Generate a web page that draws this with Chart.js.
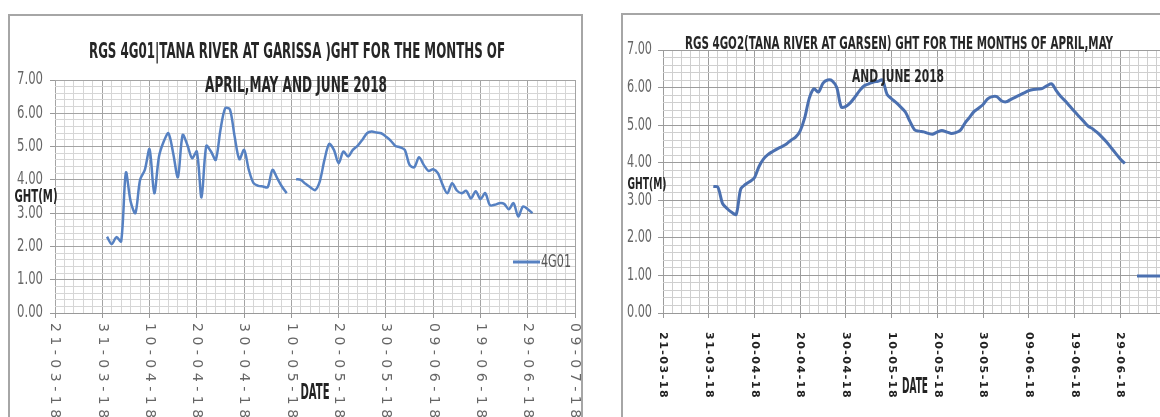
<!DOCTYPE html>
<html>
<head>
<meta charset="utf-8">
<script src="https://cdn.jsdelivr.net/npm/chart.js@4.4.1/dist/chart.umd.min.js"></script>
<style>
  html, body { margin: 0; padding: 0; background: #fff; }
  body { position: relative; width: 1160px; height: 417px; overflow: hidden; }
  .frame { position: absolute; border: 2px solid #a6a6a6; box-sizing: border-box; }
  #frameA { left: 8px; top: 14px; width: 575px; height: 440px; }
  #frameB { left: 621px; top: 13px; width: 620px; height: 440px; }
  canvas { position: absolute; top: 0; }
  #chartA { left: 0; }
  #chartB { left: 600px; }
</style>
</head>
<body>
<div class="frame" id="frameA"></div>
<div class="frame" id="frameB"></div>
<canvas id="chartA" width="600" height="417"></canvas>
<canvas id="chartB" width="600" height="417"></canvas>
<script>
// daily dates, 01-04-18 .. 30-06-18
const datesApril = ['01-04-18','02-04-18','03-04-18','04-04-18','05-04-18','06-04-18','07-04-18','08-04-18','09-04-18','10-04-18',
  '11-04-18','12-04-18','13-04-18','14-04-18','15-04-18','16-04-18','17-04-18','18-04-18','19-04-18','20-04-18',
  '21-04-18','22-04-18','23-04-18','24-04-18','25-04-18','26-04-18','27-04-18','28-04-18','29-04-18','30-04-18'];
const datesMay = ['01-05-18','02-05-18','03-05-18','04-05-18','05-05-18','06-05-18','07-05-18','08-05-18','09-05-18','10-05-18',
  '11-05-18','12-05-18','13-05-18','14-05-18','15-05-18','16-05-18','17-05-18','18-05-18','19-05-18','20-05-18',
  '21-05-18','22-05-18','23-05-18','24-05-18','25-05-18','26-05-18','27-05-18','28-05-18','29-05-18','30-05-18','31-05-18'];
const datesJune = ['01-06-18','02-06-18','03-06-18','04-06-18','05-06-18','06-06-18','07-06-18','08-06-18','09-06-18','10-06-18',
  '11-06-18','12-06-18','13-06-18','14-06-18','15-06-18','16-06-18','17-06-18','18-06-18','19-06-18','20-06-18',
  '21-06-18','22-06-18','23-06-18','24-06-18','25-06-18','26-06-18','27-06-18','28-06-18','29-06-18','30-06-18'];
const dates = [...datesApril, ...datesMay, ...datesJune];

// gauge heights (m), RGS 4G01 Garissa
const ght4G01 = [
  2.29, 2.07, 2.28, 2.15, 4.22, 3.35, 3.00, 4.00, 4.30, 4.92,
  3.60, 4.70, 5.15, 5.40, 4.80, 4.08, 5.35, 5.05, 4.65, 4.85,
  3.47, 5.02, 4.85, 4.60, 5.50, 6.15, 6.12, 5.30, 4.62, 4.90,
  4.30, 3.90, 3.82, 3.80, 3.78, 4.30, 4.05, 3.80, 3.60, null,
  4.02, 4.00, 3.88, 3.78, 3.69, 3.95, 4.60, 5.08, 4.90, 4.50,
  4.85, 4.70, 4.90, 5.02, 5.20, 5.40, 5.45, 5.42, 5.40, 5.30, 5.18,
  5.02, 4.98, 4.90, 4.45, 4.38, 4.68, 4.45, 4.27, 4.32, 4.20,
  3.85, 3.60, 3.90, 3.68, 3.60, 3.67, 3.44, 3.66, 3.42, 3.60,
  3.24, 3.25, 3.30, 3.28, 3.12, 3.30, 2.90, 3.20, 3.12, 3.00
];

// gauge heights (m), RGS 4GO2 Garsen
const ght4G02 = [
  3.37, 3.35, 2.92, 2.78, 2.68, 2.62, 3.30, 3.42, 3.50, 3.60,
  3.90, 4.10, 4.22, 4.30, 4.37, 4.43, 4.50, 4.60, 4.68, 4.85,
  5.20, 5.72, 5.97, 5.88, 6.12, 6.20, 6.18, 6.00, 5.48, 5.50,
  5.60, 5.75, 5.92, 6.05, 6.10, 6.15, 6.17, 6.20, 5.82, 5.70,
  5.60, 5.48, 5.35, 5.10, 4.88, 4.84, 4.82, 4.78, 4.76, 4.82,
  4.86, 4.82, 4.78, 4.80, 4.86, 5.05, 5.20, 5.36, 5.45, 5.55, 5.70,
  5.76, 5.76, 5.65, 5.62, 5.68, 5.74, 5.80, 5.86, 5.92, 5.95,
  5.96, 5.98, 6.05, 6.10, 5.92, 5.76, 5.64, 5.50, 5.36, 5.23,
  5.10, 4.97, 4.90, 4.80, 4.68, 4.55, 4.40, 4.25, 4.10, 3.98
];

const xTickLabels = ['21-03-18','31-03-18','10-04-18','20-04-18','30-04-18','10-05-18',
  '20-05-18','30-05-18','09-06-18','19-06-18','29-06-18','09-07-18'];
const yTickLabels = ['0.00','1.00','2.00','3.00','4.00','5.00','6.00','7.00'];

const NARROW = "'Liberation Sans Narrow', 'DejaVu Sans Condensed', sans-serif";

function dayOf(label) {
  const [d, m, y] = label.split('-').map(Number);
  return (Date.UTC(2000 + y, m - 1, d) - Date.UTC(2018, 2, 21)) / 86400000;
}

function isWhole(v) {
  return Math.abs(v - Math.round(v)) < 1e-6;
}

// draw text squeezed/stretched to a given width
function fitText(ctx, text, cx, cy, width, font, color) {
  ctx.save();
  ctx.font = font;
  ctx.fillStyle = color;
  ctx.textAlign = 'center';
  ctx.textBaseline = 'middle';
  const w = ctx.measureText(text).width;
  ctx.translate(cx, cy);
  ctx.scale(width / w, 1);
  ctx.fillText(text, 0, 0);
  ctx.restore();
}

function makeChart(canvas, cfg) {
  const decor = {
    id: 'decor',
    afterDraw(chart) {
      const ctx = chart.ctx;
      const xs = chart.scales.x;
      const ys = chart.scales.y;
      const area = chart.chartArea;

      // y tick labels (tall, narrow)
      yTickLabels.forEach((lab, i) => {
        const py = ys.getPixelForValue(i);
        fitText(ctx, lab, area.left - cfg.yLabelGap - cfg.yLabelW / 2, py, cfg.yLabelW, cfg.yFont, '#666');
      });

      // x tick labels, rotated clockwise
      ctx.save();
      ctx.font = cfg.xFont;
      ctx.fillStyle = cfg.xColor;
      ctx.letterSpacing = cfg.xSpacing;
      ctx.textAlign = 'left';
      ctx.textBaseline = 'middle';
      xTickLabels.forEach((lab) => {
        const px = xs.getPixelForValue(dayOf(lab));
        ctx.save();
        ctx.translate(px, area.bottom + cfg.xGap);
        ctx.rotate(Math.PI / 2);
        ctx.fillText(lab, 0, 0);
        ctx.restore();
      });
      ctx.restore();

      // title
      cfg.title.forEach((t) => fitText(ctx, t.text, t.x, t.y, t.w, t.font, '#262626'));

      // axis titles
      fitText(ctx, 'GHT(M)', cfg.yTitle.x, cfg.yTitle.y, cfg.yTitle.w, cfg.yTitle.font, '#222');
      fitText(ctx, 'DATE', cfg.xTitle.x, cfg.xTitle.y, cfg.xTitle.w, cfg.xTitle.font, '#222');

      // legend
      const ds = chart.data.datasets[0];
      ctx.save();
      ctx.strokeStyle = ds.borderColor;
      ctx.lineWidth = 3;
      ctx.beginPath();
      ctx.moveTo(cfg.legend.x, cfg.legend.y);
      ctx.lineTo(cfg.legend.x + 27, cfg.legend.y);
      ctx.stroke();
      ctx.restore();
      ctx.save();
      ctx.font = cfg.legend.font;
      const lw = ctx.measureText(ds.label).width;
      ctx.restore();
      fitText(ctx, ds.label, cfg.legend.x + 28 + cfg.legend.w / 2, cfg.legend.y, cfg.legend.w, cfg.legend.font, '#555');
    }
  };

  return new Chart(canvas.getContext('2d'), {
    type: 'line',
    data: {
      datasets: [{
        label: cfg.label,
        data: dates.map((d, i) => ({ x: dayOf(d), y: cfg.values[i] })),
        borderColor: cfg.color,
        borderWidth: cfg.lineWidth,
        pointRadius: 0,
        tension: 0.3,
        spanGaps: false,
        fill: false
      }]
    },
    options: {
      responsive: false,
      animation: false,
      layout: { padding: cfg.padding },
      plugins: { legend: { display: false }, tooltip: { enabled: false }, title: { display: false } },
      scales: {
        x: {
          type: 'linear',
          min: dayOf(xTickLabels[0]),
          max: dayOf(xTickLabels[xTickLabels.length - 1]),
          afterFit: (s) => { s.height = 104; },
          ticks: { display: false, stepSize: 2 },
          border: { color: '#999', width: 1 },
          grid: {
            color: (c) => (c.tick && c.tick.value % 10 === 0 ? cfg.majorGrid : cfg.minorGrid),
            tickColor: (c) => (c.tick && c.tick.value % 10 === 0 ? '#999' : 'rgba(0,0,0,0)'),
            tickLength: 5
          }
        },
        y: {
          min: 0,
          max: 7,
          afterFit: (s) => { s.width = cfg.yWidth; },
          ticks: { display: false, stepSize: 0.2, autoSkip: false },
          border: { display: false },
          grid: {
            color: (c) => (c.tick && isWhole(c.tick.value) ? cfg.majorGrid : cfg.minorGrid),
            tickColor: (c) => (c.tick && isWhole(c.tick.value) ? '#999' : 'rgba(0,0,0,0)'),
            tickLength: 5
          }
        }
      }
    },
    plugins: [decor]
  });
}

makeChart(document.getElementById('chartA'), {
  label: '4G01',
  values: ght4G01,
  color: '#5681c2',
  lineWidth: 2.5,
  padding: { left: 0, top: 80, right: 25, bottom: 0 },
  yWidth: 55,
  yLabelGap: 12,
  yLabelW: 26,
  yFont: '17px ' + NARROW,
  majorGrid: '#a4a4a4',
  minorGrid: '#d6d6d6',
  xFont: '14px "DejaVu Sans"',
  xColor: '#666',
  xSpacing: '4.5px',
  xGap: 10,
  title: [
    { text: 'RGS 4G01|TANA RIVER AT GARISSA )GHT FOR THE MONTHS OF', x: 297, y: 53, w: 416, font: 'bold 21px ' + NARROW },
    { text: 'APRIL,MAY AND JUNE 2018', x: 296, y: 87, w: 182, font: 'bold 21px ' + NARROW }
  ],
  yTitle: { x: 36, y: 198, w: 43, font: 'bold 17px ' + NARROW },
  xTitle: { x: 315, y: 393, w: 29, font: 'bold 22px ' + NARROW },
  legend: { x: 513, y: 262, w: 30, font: '18px ' + NARROW }
});

makeChart(document.getElementById('chartB'), {
  label: '4G02',
  values: ght4G02,
  color: '#4b70b0',
  lineWidth: 3,
  padding: { left: 0, top: 50, right: 34, bottom: 0 },
  yWidth: 63,
  yLabelGap: 11,
  yLabelW: 25,
  yFont: '17px ' + NARROW,
  majorGrid: '#9c9c9c',
  minorGrid: '#cfcfcf',
  xFont: 'bold 11px "DejaVu Sans"',
  xColor: '#222',
  xSpacing: '1.5px',
  xGap: 19,
  title: [
    { text: 'RGS 4GO2(TANA RIVER AT GARSEN) GHT FOR THE MONTHS OF APRIL,MAY', x: 299, y: 44, w: 428, font: 'bold 18px ' + NARROW },
    { text: 'AND JUNE 2018', x: 298, y: 77, w: 92, font: 'bold 18px ' + NARROW }
  ],
  yTitle: { x: 47, y: 185, w: 39, font: 'bold 16px ' + NARROW },
  xTitle: { x: 315, y: 388, w: 26, font: 'bold 21px ' + NARROW },
  legend: { x: 537, y: 276, w: 30, font: '18px ' + NARROW }
});
</script>
</body>
</html>
